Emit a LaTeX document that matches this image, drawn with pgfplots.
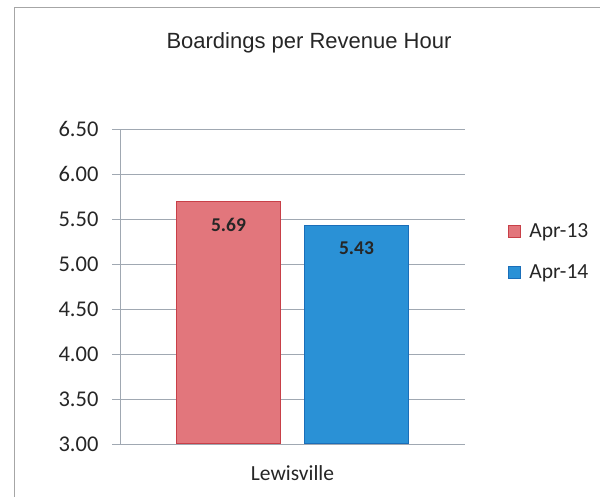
\documentclass[border=0pt]{standalone}
\usepackage{pgfplots}
\pgfplotsset{compat=1.18}
\usepackage{fontspec}
\setmainfont{Carlito}
\newfontfamily\titlefont{Liberation Sans}
\definecolor{redfill}{RGB}{226,118,124}
\definecolor{rededge}{RGB}{200,64,72}
\definecolor{bluefill}{RGB}{42,145,214}
\definecolor{blueedge}{RGB}{26,110,185}
\definecolor{gridc}{RGB}{160,168,178}
\begin{document}
\begin{tikzpicture}
\path[use as bounding box] (0,0) rectangle (600pt,497pt);
\draw[gray!70, line width=0.8pt] (14pt,0pt) -- (14pt,490pt) -- (600pt,490pt);
\node[font=\titlefont\fontsize{22}{26}\selectfont, text=black!85] at (309pt,454pt) {Boardings per Revenue Hour};
\begin{axis}[
  at={(120pt,53pt)}, anchor=south west,
  scale only axis, width=345pt, height=315pt,
  ybar=24pt, bar width=104pt,
  xmin=-0.5, xmax=0.5,
  ymin=3, ymax=6.5,
  ytick={3,3.5,...,6.5},
  xtick={0}, xticklabels={Lewisville},
  extra x ticks={-0.5,0.5}, extra x tick labels={},
  extra x tick style={grid=none, major tick length=7pt, tick style={draw=gridc}},
  major x tick style={draw=none},
  ymajorgrids, grid style={gridc, line width=0.8pt},
  axis x line*=bottom, axis y line*=left,
  axis line style={gridc, line width=0.8pt},
  tick align=outside, major tick length=8pt,
  tick style={gridc, line width=0.8pt},
  ytick pos=left, xtick pos=bottom,
  /pgf/number format/assume math mode=true,
  yticklabel style={/pgf/number format/fixed, /pgf/number format/fixed zerofill, /pgf/number format/precision=2, font=\fontsize{22.5}{26}\selectfont, text=black!85, xshift=-10pt},
  xticklabel style={font=\fontsize{21.5}{24}\selectfont, text=black!85, yshift=-10pt},
  nodes near coords,
  nodes near coords style={font=\bfseries\fontsize{19.5}{22}\selectfont, text=black!85, anchor=center, yshift=-23pt, /pgf/number format/fixed, /pgf/number format/fixed zerofill, /pgf/number format/precision=2},
  legend style={at={(1.125,0.61)}, anchor=west, draw=none, fill=none, font=\fontsize{21.5}{24}\selectfont, text=black!85, row sep=21pt, inner sep=0pt},
  legend cell align=left,
  legend image code/.code={\draw[#1] (0pt,-6pt) rectangle (12pt,6pt);},
]
\addplot[fill=redfill, draw=rededge, line width=1pt] coordinates {(0,5.69)};
\addplot[fill=bluefill, draw=blueedge, line width=1pt] coordinates {(0,5.43)};
\legend{\hspace{6pt}Apr-13, \hspace{6pt}Apr-14}
\end{axis}
\end{tikzpicture}
\end{document}
